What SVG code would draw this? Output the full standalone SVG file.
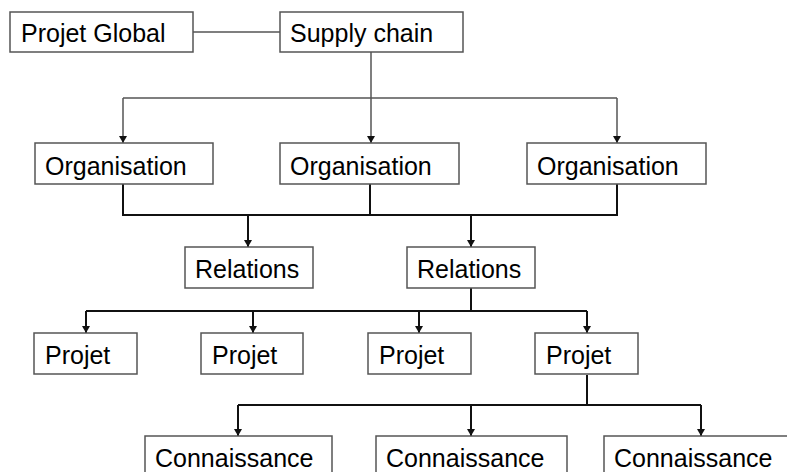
<svg xmlns="http://www.w3.org/2000/svg" width="787" height="472" viewBox="0 0 787 472">
<defs>
<style>
.box{fill:#fff;stroke:#555;stroke-width:1.5}
.lbl{font-family:"Liberation Sans",Arial,sans-serif;font-size:25px;fill:#000}
.c1{fill:none;stroke:#555;stroke-width:1.5}
.c2{fill:none;stroke:#111;stroke-width:2}
</style>
<marker id="ah" markerUnits="userSpaceOnUse" markerWidth="10" markerHeight="10" viewBox="0 0 10 10" refX="10" refY="5" orient="auto">
<path d="M3,1 L10,5 L3,9 Z" fill="#111"/>
</marker>
</defs>
<rect width="787" height="472" fill="#fff"/>
<g id="connectors">
<path class="c1" d="M193,32 H280"/>
<path class="c1" d="M371,52 V98 M123,98 H617"/>
<path class="c1" d="M123,98 V143" marker-end="url(#ah)"/>
<path class="c1" d="M371,98 V143" marker-end="url(#ah)"/>
<path class="c1" d="M617,98 V143" marker-end="url(#ah)"/>
<path class="c2" d="M123,184 V215 H617 V184 M370,184 V215"/>
<path class="c2" d="M248,215 V247" marker-end="url(#ah)"/>
<path class="c2" d="M471,215 V247" marker-end="url(#ah)"/>
<path class="c2" d="M471,288 V311 M86,311 H587"/>
<path class="c2" d="M86,311 V333" marker-end="url(#ah)"/>
<path class="c2" d="M253,311 V333" marker-end="url(#ah)"/>
<path class="c2" d="M419,311 V333" marker-end="url(#ah)"/>
<path class="c2" d="M587,311 V333" marker-end="url(#ah)"/>
<path class="c2" d="M587,375 V405 M238,405 H701"/>
<path class="c2" d="M238,405 V436" marker-end="url(#ah)"/>
<path class="c2" d="M471,405 V436" marker-end="url(#ah)"/>
<path class="c2" d="M701,405 V436" marker-end="url(#ah)"/>
</g>
<g id="projet-global"><rect class="box" x="10" y="12" width="183" height="40"/><text class="lbl" x="21" y="42">Projet Global</text></g>
<g id="supply-chain"><rect class="box" x="280" y="12" width="183" height="40"/><text class="lbl" x="290" y="42">Supply chain</text></g>
<g id="org1"><rect class="box" x="35" y="143" width="178" height="41"/><text class="lbl" x="45" y="175">Organisation</text></g>
<g id="org2"><rect class="box" x="280" y="143" width="179" height="41"/><text class="lbl" x="290" y="175">Organisation</text></g>
<g id="org3"><rect class="box" x="527" y="143" width="179" height="41"/><text class="lbl" x="537" y="175">Organisation</text></g>
<g id="rel1"><rect class="box" x="185" y="247" width="128" height="41"/><text class="lbl" x="195" y="278">Relations</text></g>
<g id="rel2"><rect class="box" x="407" y="247" width="128" height="41"/><text class="lbl" x="417" y="278">Relations</text></g>
<g id="projet1"><rect class="box" x="34" y="333" width="103" height="41"/><text class="lbl" x="45" y="364">Projet</text></g>
<g id="projet2"><rect class="box" x="201" y="333" width="102" height="41"/><text class="lbl" x="212" y="364">Projet</text></g>
<g id="projet3"><rect class="box" x="368" y="333" width="103" height="41"/><text class="lbl" x="379" y="364">Projet</text></g>
<g id="projet4"><rect class="box" x="535" y="333" width="103" height="41"/><text class="lbl" x="546" y="364">Projet</text></g>
<g id="conn1"><rect class="box" x="145" y="436" width="187" height="41"/><text class="lbl" x="155" y="467">Connaissance</text></g>
<g id="conn2"><rect class="box" x="376" y="436" width="191" height="41"/><text class="lbl" x="386" y="467">Connaissance</text></g>
<g id="conn3"><rect class="box" x="604" y="436" width="190" height="41"/><text class="lbl" x="614" y="467">Connaissance</text></g>
</svg>
